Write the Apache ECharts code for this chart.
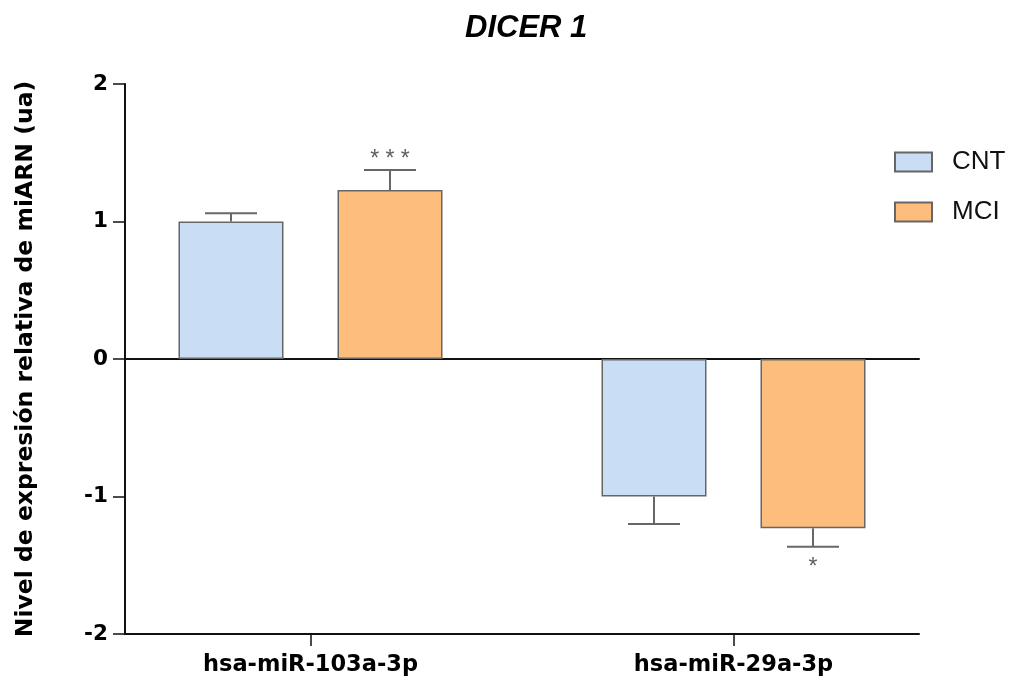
<!DOCTYPE html>
<html>
<head>
<meta charset="utf-8">
<script src="https://cdn.jsdelivr.net/npm/echarts@6/dist/echarts.min.js"></script>
<style>
  html, body { margin: 0; padding: 0; background: #ffffff; }
  #chart { width: 1010px; height: 682px; }
</style>
</head>
<body>
<div id="chart"></div>
<script>
// ---- data ----
const categories = ['hsa-miR-103a-3p', 'hsa-miR-29a-3p'];
const seriesNames = ['CNT', 'MCI'];
const cntMean = [1.00, -1.00];
const cntErr = [0.06, 0.20];
const mciMean = [1.23, -1.23];
const mciErr = [0.145, 0.135];
const mciSig = ['***', '*'];
const cntSig = ['', ''];
const yTicks = [-2, -1, 0, 1, 2];

// ---- style ----
const BAR_W = 105;
const BAR_GAP = 54;
const CAP_W = 52;
const colors = ['#c9ddf5', '#fdbe7d'];
const edge = '#666666';
const errColor = '#676767';
const axisFont = 'DejaVu Sans';

const chart = echarts.init(document.getElementById('chart'));

const errData = [];
[[cntMean, cntErr, cntSig], [mciMean, mciErr, mciSig]].forEach(function (s, si) {
  s[0].forEach(function (m, ci) {
    errData.push([ci, si, m, s[1][ci], s[2][ci]]);
  });
});

function renderErr(params, api) {
  const ci = api.value(0);
  const si = api.value(1);
  const m = api.value(2);
  const e = api.value(3);
  const sig = errData[params.dataIndex][4];
  const dir = m >= 0 ? 1 : -1;
  const off = (si === 0 ? -1 : 1) * (BAR_W / 2 + BAR_GAP / 2);
  const p0 = api.coord([ci, m]);
  const p1 = api.coord([ci, m + dir * e]);
  const x = p0[0] + off;
  const children = [
    { type: 'line', shape: { x1: x, y1: p0[1], x2: x, y2: p1[1] },
      style: { stroke: errColor, lineWidth: 2 } },
    { type: 'line', shape: { x1: x - CAP_W / 2, y1: p1[1], x2: x + CAP_W / 2, y2: p1[1] },
      style: { stroke: errColor, lineWidth: 2 } }
  ];
  if (sig) {
    children.push({
      type: 'text',
      style: {
        text: sig.split('').join(' '),
        x: x,
        y: dir > 0 ? p1[1] + 1 : p1[1] + 9,
        align: 'center',
        verticalAlign: dir > 0 ? 'bottom' : 'top',
        fill: '#5f5f5f',
        font: '23px "Liberation Sans", Arial, sans-serif'
      }
    });
  }
  return { type: 'group', children: children };
}

const option = {
  backgroundColor: '#ffffff',
  animation: false,
  title: {
    text: 'DICER 1',
    left: 460,
    top: 8,
    textStyle: {
      fontFamily: '"Liberation Sans", Arial, sans-serif',
      fontSize: 31,
      fontWeight: 'bold',
      fontStyle: 'italic',
      color: '#000000'
    }
  },
  legend: {
    orient: 'vertical',
    left: 894,
    top: 149,
    padding: 0,
    itemWidth: 37,
    itemHeight: 19,
    itemGap: 24,
    icon: 'rect',
    data: seriesNames,
    textStyle: {
      fontFamily: '"Liberation Sans", Arial, sans-serif',
      fontSize: 26,
      color: '#111111',
      padding: [0, 0, 0, 15]
    }
  },
  grid: [
    { left: 99, top: 84, width: 846, height: 550 },
    { left: 125, top: 84, width: 794, height: 550 }
  ],
  xAxis: [
    {
      type: 'category',
      gridIndex: 0,
      data: categories,
      axisLine: { show: false, onZero: false },
      axisTick: { show: true, alignWithLabel: true, length: 12, lineStyle: { color: '#111', width: 1.5 } },
      axisLabel: { margin: 20, color: '#000', fontFamily: axisFont, fontWeight: 'bold', fontSize: 22.5 },
      splitLine: { show: false }
    },
    {
      type: 'value',
      gridIndex: 1,
      min: 0, max: 1,
      position: 'bottom',
      axisLine: { show: true, onZero: false, lineStyle: { color: '#111', width: 2 } },
      axisTick: { show: false },
      axisLabel: { show: false },
      splitLine: { show: false }
    },
    {
      type: 'value',
      gridIndex: 1,
      min: 0, max: 1,
      position: 'top',
      axisLine: { show: true, onZero: true, lineStyle: { color: '#111', width: 2 } },
      axisTick: { show: false },
      axisLabel: { show: false },
      splitLine: { show: false }
    }
  ],
  yAxis: [
    {
      type: 'value',
      gridIndex: 0,
      min: yTicks[0], max: yTicks[yTicks.length - 1], interval: 1,
      show: false
    },
    {
      type: 'value',
      gridIndex: 1,
      min: yTicks[0], max: yTicks[yTicks.length - 1], interval: 1,
      name: 'Nivel de expresión relativa de miARN (ua)',
      nameLocation: 'middle',
      nameGap: 87,
      nameTextStyle: { fontFamily: axisFont, fontWeight: 'bold', fontSize: 23.5, color: '#000' },
      axisLine: { show: true, lineStyle: { color: '#111', width: 2 } },
      axisTick: { show: true, length: 12, lineStyle: { color: '#111', width: 1.5 } },
      axisLabel: { margin: 17, color: '#000', fontFamily: axisFont, fontWeight: 'bold', fontSize: 21.5 },
      splitLine: { show: false }
    }
  ],
  series: [
    {
      name: seriesNames[0],
      type: 'bar',
      xAxisIndex: 0, yAxisIndex: 0,
      data: cntMean,
      barWidth: BAR_W,
      barGap: (BAR_GAP / BAR_W * 100).toFixed(2) + '%',
      itemStyle: { color: colors[0], borderColor: edge, borderWidth: 1.5 },
      z: 2
    },
    {
      name: seriesNames[1],
      type: 'bar',
      xAxisIndex: 0, yAxisIndex: 0,
      data: mciMean,
      barWidth: BAR_W,
      barGap: (BAR_GAP / BAR_W * 100).toFixed(2) + '%',
      itemStyle: { color: colors[1], borderColor: edge, borderWidth: 1.5 },
      z: 2
    },
    {
      type: 'custom',
      xAxisIndex: 0, yAxisIndex: 0,
      data: errData.map(function (d) { return d.slice(0, 4); }),
      renderItem: renderErr,
      z: 3,
      silent: true
    }
  ]
};
chart.setOption(option);
</script>
</body>
</html>
